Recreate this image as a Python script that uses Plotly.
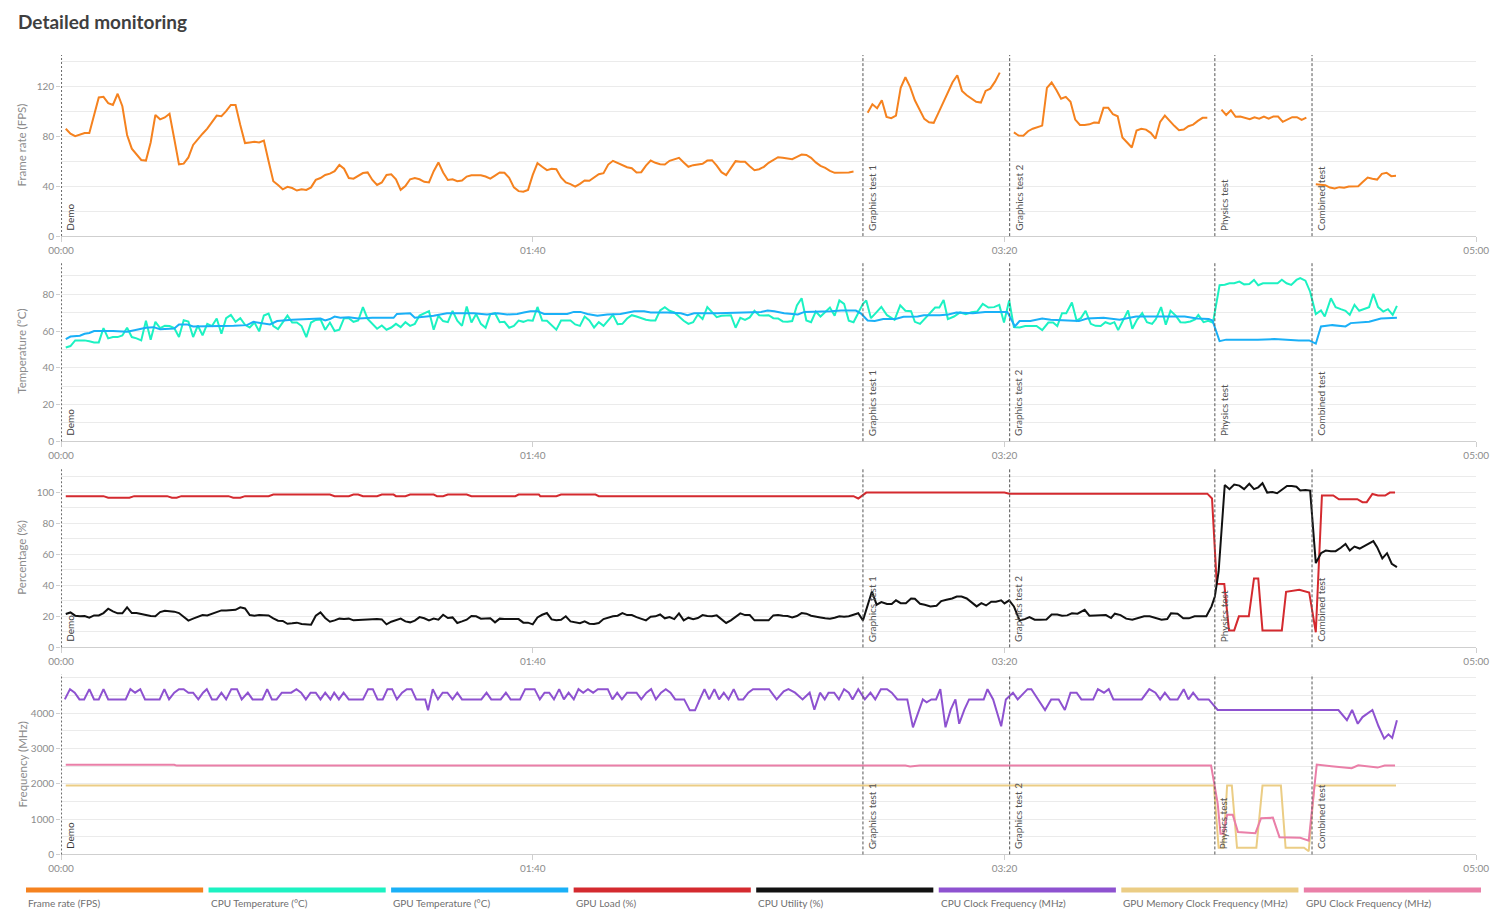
import plotly.graph_objects as go

W, H = 1511, 922


# map a pixel position measured on the reference picture to figure pixels
def px(x):
    return ((x - 13) / 0.982) / W


def py(y):
    return 1 - (y / 0.993) / H


X0, X1 = 61, 1475  # plot-area left/right on the reference

# ---------------- data ----------------
series_names = ['Frame rate (FPS)', 'CPU Temperature (°C)', 'GPU Temperature (°C)', 'GPU Load (%)',
                'CPU Utility (%)', 'CPU Clock Frequency (MHz)', 'GPU Memory Clock Frequency (MHz)',
                'GPU Clock Frequency (MHz)']
series_colors = ['#F5821F', '#1CF2C2', '#1AB0F7', '#D42A2F', '#111111', '#8E52D0', '#EBCD85', '#EA7FA8']

test_names = ['Demo', 'Graphics test 1', 'Graphics test 2', 'Physics test', 'Combined test']
test_starts = [0, 170.0, 201.1, 244.6, 265.2]

x_tick_vals = [0, 100, 200, 300]
x_tick_text = ['00:00', '01:40', '03:20', '05:00']

# Frame rate, one value per second for each test
fps_demo_t = list(range(1, 169))
fps_demo = [86, 82, 80, 81, 82.5, 82.5, 97, 111, 111.5, 106.5,
            105, 114, 104, 81, 70, 65.5, 61, 60.5, 75, 97,
            93.5, 95, 98, 78, 57.5, 58, 63, 73, 78, 82,
            86, 91.5, 96.5, 96, 100, 105, 105, 89, 74.5, 75,
            75.5, 75, 76.5, 60, 44, 41, 37.5, 39.5, 38.5, 36.5,
            37.5, 37, 39, 45, 46.5, 49, 50, 52, 57, 54,
            46.5, 46, 48.5, 50.5, 51, 45, 41, 43, 49, 49.5,
            45.5, 37, 40, 45.5, 46.5, 45.5, 43.5, 43, 52, 59,
            51, 45, 45.5, 44, 44.5, 47.7, 48.8, 49, 48.8, 47.7,
            46, 48.5, 51, 50.7, 46.7, 39, 36, 35.5, 37, 49,
            58.4, 55.5, 52.8, 53.9, 53.6, 47, 43, 41.6, 39.7, 41.9,
            44.5, 44.3, 47.2, 49.6, 50.4, 57.3, 60.3, 58.7, 56.5, 55.2,
            54.4, 51, 51.2, 56.5, 60.5, 58.7, 57.6, 57.3, 60.3, 61.6,
            62.7, 59, 55.5, 56.8, 57.6, 57.9, 60.5, 60.8, 56.5, 51.2,
            48.8, 54.4, 60, 59.5, 59.5, 56, 52.8, 53.6, 55.5, 58.7,
            61.3, 63.2, 62.7, 61.9, 61.6, 63.5, 65.3, 65, 62.7, 59,
            56.3, 54.7, 52.3, 50.7, 50.7, 50.7, 51, 51.7]
fps_gt1_t = list(range(171, 200))
fps_gt1 = [98.7, 105.6, 102.4, 108.8, 95.5, 94.4, 96.5, 118.7, 127.2, 119.5,
           108.8, 100.8, 93.9, 91.2, 90.7, 98.7, 106.7, 115.2, 123.2, 128.8,
           116.3, 112.8, 110.4, 107.5, 106.9, 116.3, 118.1, 123.7, 130.9]
fps_gt2_t = list(range(202, 244))
fps_gt2 = [83, 80.5, 80.3, 84, 86, 87.5, 88.5, 118.7, 123, 117,
           110, 111.5, 107.5, 93.3, 89, 89, 89.5, 91, 90.7, 102.7,
           102.7, 97.6, 96, 79, 75, 71, 84.5, 86, 85.3, 82.7,
           78, 91.5, 96.5, 92, 88.3, 84.8, 85.3, 88, 89.3, 92.3,
           94.7, 94.7]
fps_phys_t = list(range(246, 265))
fps_phys = [101.3, 97, 100.8, 95.5, 95.7, 94.7, 93.6, 95.2, 94.1, 95.7,
            94.1, 95.7, 95.7, 91.5, 93.3, 95.2, 95.2, 93, 94.9]
fps_comb_t = list(range(266, 284))
fps_comb = [41.6, 41.2, 40.8, 38.9, 38.1, 39.2, 38.7, 39.7, 39.8, 40,
            43.5, 46.9, 46, 45.3, 49.9, 50.7, 48, 48.3]

# CPU temperature
cpu_temp_t = list(range(1, 171)) + [
    170.7, 171.7, 172.7, 173.9, 175.1, 176.7, 177.9, 179, 180.2, 181, 182.1, 183.1, 184.3, 185.3,
    186.2, 187.1, 188, 189.3, 190.6, 191.8, 193, 194.2, 195.4, 196.6, 197.8, 198.9, 199.9, 201,
    202, 203.2, 204.4, 205.5, 206.8, 208, 209.3, 210.3, 211.2, 212.2, 213.1, 214.3, 215.3, 216.2,
    217.2, 218.3, 219.3, 220.4, 221.4, 222.4, 223.3, 224.1, 225.2, 226.2, 227.1, 228.1, 229.2,
    230.2, 231.3, 232.1, 233.2, 234.2, 235.2, 236.3, 237.3, 238.3, 239.4, 240.4, 241.1, 242.2,
    243.2, 244.2, 245.6, 246.7, 247.7, 248.7, 249.8, 250.8, 251.9, 252.9, 253.8, 254.8, 255.8,
    256.9, 257.9, 258.8, 259.8, 260.8, 261.9, 262.7, 263.8, 264.8, 266, 267.1, 267.9, 269.2,
    270.2, 271.3, 272.3, 273.2, 274.2, 275.2, 276.3, 277.3, 278.2, 279.2, 280.3, 281.3, 282.3,
    283.2]
cpu_temp = [51, 51.8, 54.9, 55, 54.9, 54.4, 53.8, 53.8, 61.6, 56,
            56.7, 56.7, 57.6, 61.8, 56.7, 56, 54.9, 65.6, 55.3, 65,
            61.6, 62.8, 62.7, 61.6, 56.7, 65.9, 65.2, 56.7, 63, 57.6,
            63.9, 62.7, 66.8, 58.5, 67, 68.8, 65, 67, 63.4, 61.9,
            64.6, 59.8, 68.4, 69.5, 62.7, 61, 64.8, 68.4, 64.6, 64.6,
            62.7, 56.7, 64.6, 66, 66.3, 60.7, 64.6, 60, 60.7, 67,
            67, 65, 65.7, 73, 66.6, 63.9, 61.2, 63, 60.7, 61.9,
            63.9, 62.1, 64.8, 62.8, 63.9, 68.4, 69.7, 70.8, 60.7, 68.3,
            65.4, 64.8, 71, 65.6, 62.8, 73.3, 64.6, 69.2, 63.9, 61.8,
            69.2, 69.7, 64.8, 65, 61.8, 62.8, 65.7, 65, 65.9, 65.6,
            73.1, 65.7, 65.6, 63.4, 60.7, 65.7, 65.7, 65.7, 63.6, 62.8,
            67.9, 65.7, 61.9, 64.8, 62.8, 65.6, 68.8, 63.7, 63.9, 66.8,
            68.6, 67.9, 67, 66.1, 65.7, 65.7, 71.2, 73, 71, 70.1,
            67.9, 65.6, 63.9, 64.8, 69, 66.5, 73, 70.1, 67.5, 68.3,
            68.3, 68.6, 61.8, 67.2, 66.1, 67.4, 71, 68.6, 68.4, 68.6,
            67, 66.8, 65.2, 65, 65.4, 73.9, 77.8, 65.7, 64.8, 70.6,
            67.9, 70.1, 72.8, 68.3, 76.7, 74.8, 65.6, 64.8, 70.1, 74.8,
            76.6, 67, 69.7, 73.1, 68.6, 66.1, 74, 71, 70.8, 65, 63.9, 66.6, 69.7, 72.8,
            72.8, 76.9, 66.5, 67.9, 70.1, 69.2, 70.2, 70.6, 74.8, 72.8, 73, 74.2, 64.6, 76.6,
            62.1, 61.9, 62.7, 62.8, 62.7, 60.5, 64.6, 64.6, 62.7, 69.7, 69.7, 75.5, 65.6, 67,
            71, 63.9, 62.8, 62.7, 64.8, 63.9, 64.8, 60.5, 65.7, 71.2, 61.2, 66.1, 69.7,
            64.8, 63.9, 66.5, 73, 63.4, 71, 68.4, 64.8, 64.6, 65.2, 66.3, 68.8, 64.8,
            65.6, 64.6, 84.9, 85.2, 86, 86, 86.9, 85.4, 85.6, 87.8, 84.9, 86, 86,
            86, 86, 87.9, 86, 85.1, 87.8, 88.8, 87.4, 81.4, 69.2, 71.2, 67.9, 77.8,
            73, 71.9, 71, 68.8, 74.2, 71, 72.1, 73, 80.2, 73, 70.6, 71.9, 68.8,
            73.7]

# GPU temperature
gpu_temp_t = [1, 2, 4, 5, 6, 7, 11, 14, 15.3, 16.8, 18, 19.6, 21, 24, 25, 26.7, 28, 36.6, 39.4, 40.8,
              43, 44.3, 45.8, 49, 55, 56, 57, 58, 59.2, 61, 63, 66, 70.5, 71.2, 74, 75, 79, 81.8,
              84.7, 87.5, 90.3, 92.5, 94.6, 96.7, 98.1, 99.5, 101, 102.4, 107.3, 108.7, 110.1, 111.6,
              113.7, 115.8, 118.6, 121.5, 123.6, 125, 128.6, 131.4, 132.8, 134.2, 139.2, 142.7,
              145.5, 148.4, 149.8, 151.2, 153.3, 156.2, 157.6, 161.1, 163.2, 165.4, 168.5, 169.6,
              171, 172.5, 174.3, 176.9, 178.6, 181.6, 182.9, 186.3, 188.1, 189.8, 193.3, 195.9,
              200.6, 202.2, 203.2, 205.5, 208, 209.8, 215.8, 217.5, 221, 224.4, 227.9, 238.2,
              240.8, 243.3, 244.1, 245.6, 247, 253.7, 257.2, 262.4, 264.6, 266, 267.1, 269.5,
              271.3, 272.3, 273.4, 275.5, 277.3, 279.8, 283.2]
gpu_temp = [55.6, 57, 57.4, 58.5, 58.9, 60, 60, 59.6, 60.3, 61, 61.8, 62.1, 61, 61.4, 63.6, 63.6,
            62.5, 62.8, 63.2, 65, 63.9, 63.6, 65.4, 66.1, 66.8, 65.7, 66.5, 67.9, 67.2, 67.5, 66.8,
            67.2, 67.2, 69.3, 69.7, 67.2, 68.3, 69.7, 69.7, 69.7, 69, 69.7, 69, 69.3, 70.1, 70.8,
            70.8, 69.3, 69.3, 70.4, 70.4, 69.3, 68.3, 69, 69.3, 70.8, 70.8, 70.1, 70.1, 69.7, 68.6,
            69.7, 69.7, 70.1, 70.4, 70.4, 71.1, 70.8, 69.7, 69, 70.4, 70.4, 70.8, 71.1, 71.1, 69.5,
            65.7, 65.4, 66.5, 66.5, 67.7, 67.9, 68.6, 68.6, 69, 70.1, 69.7, 70.4,
            70.4, 62.5, 65.4, 65.4, 66.8, 66.1, 65.4, 66.8, 67.2, 66.1, 67.9, 67.9,
            66.8, 66.5, 65.7, 54.5, 55.3, 55.3, 55.6, 54.9, 54.9, 53.1, 62.5, 63.2,
            62.8, 62.5, 64.3, 64.6, 65, 66.8, 67.2]

# GPU load
gpu_load_t = [1, 9, 10, 14.5, 15.5, 22.5, 23.5, 24.5, 25.5, 35.5, 36.5, 38, 39, 44, 45, 57, 58, 61, 62,
              63, 64, 67, 68, 70.5, 71, 73, 74, 79, 79.7, 81, 82, 86, 87, 96.3, 97, 101.3, 101.6, 105,
              106, 113.3, 114, 168, 169, 170.7, 200, 201, 243, 244, 245, 246.6, 247.6, 248.7, 249.7,
              251.8, 252.9, 253.8, 254.7, 258.8, 259.7, 260.8, 262.5, 264.6, 266, 267.3, 269.7,
              270.9, 274.8, 275.9, 276.8, 278, 279.2, 280.7, 281.7, 282.8]
gpu_load = [97.5, 97.5, 96.5, 96.5, 97.5, 97.5, 96.5, 96.5, 97.5, 97.5, 96.5, 96.5, 97.5, 97.5, 98.5,
            98.5, 97.5, 97.5, 98.5, 98.5, 97.5, 97.5, 98.5, 98.5, 97.5, 97.5, 98.5, 98.5, 97.5, 97.5,
            98.5, 98.5, 97.5, 97.5, 98.5, 98.5, 97.5, 97.5, 98.5, 98.5, 97.5, 97.5, 96, 99.8, 99.8,
            99.1, 99.1, 96, 41, 40.8, 10.9, 10.9, 20, 20, 44.4, 44.4, 10.9, 10.9, 35.8, 36.5, 37.1,
            35.4, 9.7, 97.9, 97.9, 95.5, 95.5, 93.6, 93.6, 98.9, 97.9, 97.9, 99.8, 99.8]

# CPU utility
cpu_util_t = list(range(1, 171)) + [
    171.9, 172.9, 173.9, 175.1, 176.1, 177, 178, 179.1, 180.2, 181, 182.1, 183.1, 184.3, 185.6,
    186.6, 187.7, 188.9, 189.9, 190.9, 192, 193, 194.1, 195.1, 196.1, 197.2, 198.2, 199.3, 200,
    201, 202, 203.2, 204.3, 205.3, 206.4, 207.5, 208.9, 210, 211.2, 212.2, 213.3, 214.3, 215.5,
    217, 218, 219.3, 220.5, 221.5, 222.6, 223.4, 224.6, 225.8, 227.1, 228.4, 229.6, 230.8, 232,
    233.3, 234.5, 235.3, 236.7, 237.9, 239.1, 240.3, 241.4, 242.8, 243.9, 244.6, 245.4, 246.7,
    247.7, 248.7, 249.8, 250.8, 251.9, 252.9, 253.8, 254.7, 255.7, 256.8, 257.8, 258.8, 259.9,
    260.9, 261.9, 262.7, 263.8, 264.8, 266, 267.1, 268.1, 269.2, 270.2, 271.3, 272.3, 273.2,
    274.2, 275.3, 276.3, 277.4, 278.2, 279, 280.1, 281.1, 282.1, 283.2]
cpu_util = [21.5, 22.5, 20.4, 20, 20.2, 19.1, 20.6, 20.6, 22.1, 24.9,
            23.2, 21.9, 21.9, 25.8, 22.1, 22.1, 21.5, 20.8, 20.2, 20,
            22.7, 23.6, 23.4, 23, 22.1, 19.5, 17.2, 18.5, 19.7, 20.8,
            20.6, 21.7, 22.3, 23.8, 23.8, 24.2, 24.2, 25.8, 25.1, 20.8,
            20.4, 20.8, 20.6, 20.6, 18.7, 17.2, 17, 15.2, 15.5, 15.9,
            15, 15, 14.6, 20.4, 22.5, 18.9, 16.5, 17.4, 18.5, 18.2,
            18.5, 17.4, 17.6, 17.8, 18, 18, 18.2, 18, 14.8, 16.5,
            17.6, 18.5, 16.7, 16.1, 17.2, 19.5, 18.7, 17.4, 18.5, 17.8,
            21, 18.9, 19.3, 15.7, 16.7, 17.8, 20.2, 20, 18.5, 18.5,
            18.7, 16.1, 18.5, 18.2, 18.2, 18.2, 18.2, 15.9, 15.9, 14.8,
            19.3, 21, 22.1, 18, 17.4, 17.8, 20, 16.7, 16.3, 15.5,
            16.7, 15.2, 15, 15.7, 18.2, 19.1, 20, 20.4, 22.1, 20.8,
            20.8, 19.5, 18.2, 17.4, 19.7, 20, 21.2, 18.7, 19.5, 18.2,
            21.9, 17.4, 19.1, 18.2, 18.9, 20.8, 20.2, 20, 20.6, 18.2,
            15.7, 17.4, 19.7, 21.9, 20.8, 20.8, 17.4, 17.4, 17.4, 17.4,
            20.6, 20.8, 20.4, 20.2, 19.3, 20.2, 22.1, 21.7, 20.4, 20,
            19.3, 18.7, 18.5, 19.1, 20, 19.7, 20, 21, 22, 17.4,
            36, 27.5, 29.2, 27.9, 27.9, 30.3, 28.5, 28.5, 31.5, 31.3, 28.1, 27.5, 26.4, 26.8,
            29.8, 30.7, 31.5, 32.8, 32.8, 31.5, 29, 26.4, 28.5, 27, 29.4, 29.4, 30.3, 28.3,
            30.3, 26.4, 17.4, 18.2, 19.5, 17.8, 17.8, 18, 21.2, 21.2, 20.4, 20.6, 21.9, 21.7,
            24.2, 20.4, 20.6, 20.6, 20.8, 18.9, 21.7, 20.8, 18.5, 17.8, 18.7, 20, 20, 19.1,
            17.8, 18.2, 21.9, 21.7, 18.7, 18.7, 20, 20, 20, 26.4, 32.8, 48.9, 104.7,
            102, 105, 104.3, 102, 105.5, 102, 103.2, 105.8, 99.8, 100.2, 99.4, 101.5, 104.1,
            104.1, 103.6, 101.1, 101.5, 101.1, 54.3, 60.7, 62.4, 62, 62, 64.2, 66.7, 62.4,
            65, 63.7, 65.5, 67.6, 68.5, 64.6, 57.3, 60.7, 53.9, 51.7]

# CPU clock frequency
cpu_clock_t = [0.8, 1.9, 2.9, 3.9, 4.9, 6, 7, 8, 9, 10, 13.7, 14.7, 15.7, 16.8, 17.8, 20.9, 21.9, 22.9,
               24, 25, 26, 27, 28, 29.1, 30.1, 30.9, 32, 33, 34, 35, 36.1, 37.3, 38.3, 39.6, 40.6,
               41.6, 42.7, 43.7, 44.7, 45.7, 46.8, 47.8, 48.8, 49.9, 50.9, 51.9, 52.9, 54, 55, 56,
               57.1, 57.9, 58.9, 59.9, 61, 62, 63, 64, 65.1, 66.1, 67.1, 68.2, 69.2, 70.2, 71.2,
               72.3, 73.3, 74.3, 75.3, 76.4, 77.2, 77.8, 78.8, 79.9, 80.9, 81.9, 83, 84, 85, 86,
               87.1, 88.1, 89.1, 90.2, 91.2, 92.2, 93.2, 94.3, 95.3, 96.3, 97.3, 98.4, 99.4, 100.4,
               101.5, 102.5, 103.5, 104.5, 105.6, 106.6, 107.6, 108.7, 109.7, 110.7, 111.7, 112.8,
               113.8, 114.8, 115.9, 116.9, 117.9, 118.9, 120, 121, 122, 123, 124.1, 125.1, 126.1,
               127.2, 128.2, 129.2, 130.2, 131.3, 132.1, 133.3, 134.4, 135.4, 136.4, 137.4, 138.5,
               139.5, 140.5, 141.5, 142.6, 143.6, 144.6, 145.7, 146.7, 148.3, 150.1, 151.7, 153.2,
               154.2, 155.6, 157.2, 158.7, 159.7, 160.9, 161.9, 162.7, 163.9, 164.9, 166, 167,
               167.8, 169, 170.4, 171.6, 172.6, 173.8, 175.1, 176.1, 177.3, 179.4, 180.6, 182.7,
               183.5, 184.5, 185.5, 186.4, 187.5, 188.6, 189.6, 190.4, 191.5, 192.5, 195.6, 196.4,
               197.6, 199.3, 200.3, 201.8, 202.8, 204.9, 205.7, 207.2, 208.6, 209.9, 211.5, 212.8,
               214, 215.3, 216.3, 218.8, 219.8, 221.1, 222.1, 223.1, 229.1, 230.7, 232, 233, 234,
               235.1, 236.7, 238, 239, 240, 241.1, 243.3, 245.2, 270.8, 272.6, 273.7, 274.9, 275.9,
               278, 279.3, 280.5, 281.4, 282.2, 283.2]
cpu_clock = [4390, 4680, 4580, 4390, 4390, 4680, 4390, 4390, 4680, 4390, 4390, 4680, 4580, 4680, 4390,
             4390, 4680, 4390, 4580, 4680, 4680, 4580, 4580, 4390, 4580, 4680, 4390, 4390, 4580, 4390,
             4680, 4680, 4390, 4580, 4390, 4390, 4390, 4680, 4390, 4390, 4580, 4580, 4580, 4680, 4580,
             4390, 4580, 4580, 4390, 4580, 4390, 4580, 4390, 4580, 4390, 4390, 4390, 4390, 4680, 4680,
             4390, 4390, 4680, 4680, 4390, 4580, 4680, 4680, 4390, 4390, 4390, 4080, 4680, 4390, 4580,
             4580, 4390, 4580, 4390, 4390, 4390, 4390, 4390, 4580, 4390, 4390, 4390, 4580, 4390, 4390,
             4390, 4680, 4680, 4680, 4390, 4580, 4580, 4390, 4680, 4390, 4580, 4390, 4680, 4580, 4680,
             4580, 4680, 4680, 4680, 4390, 4580, 4390, 4580, 4580, 4580, 4390, 4580, 4680, 4390, 4580,
             4680, 4580, 4390, 4390, 4390, 4080, 4080, 4390, 4680, 4390, 4680, 4390, 4580, 4390, 4680,
             4390, 4390, 4580, 4680, 4680, 4680, 4390, 4620, 4680, 4580, 4390, 4580, 4100, 4580, 4390,
             4580, 4580, 4390, 4680, 4580, 4390, 4680, 4390, 4580, 4390, 4680, 4680, 4580, 4390, 4390,
             3600, 4390, 4310, 4390, 4390, 4680, 3600, 4100, 4390, 3700, 4100, 4390, 4390, 4680, 4390,
             3630, 4390, 4580, 4390, 4680, 4680, 4390, 4090, 4390, 4390, 4090, 4580, 4580, 4390, 4390,
             4680, 4580, 4680, 4390, 4390, 4680, 4580, 4390, 4580, 4390, 4390, 4680, 4390, 4580, 4390,
             4390, 4090, 4090, 3800, 4090, 3700, 3890, 4090, 3630, 3280, 3400, 3300, 3800]

# GPU memory clock frequency
gpu_mem_t = [1, 244.4, 245.4, 246.4, 247.2, 248.2, 249.3, 253.4, 254.7, 258.6, 259.6, 263.5, 264.5,
             265.7, 283]
gpu_mem = [1950, 1950, 190, 190, 1950, 1950, 190, 190, 1950, 1950, 190, 190, 90, 1950, 1950]

# GPU clock frequency
gpu_clock_t = [1, 24, 24.5, 179, 180, 182, 243.8, 245.2, 245.8, 246.4, 247.2, 248.4, 249.5, 253.2,
               254.4, 256.9, 258.3, 262.7, 264.5, 266.2, 269.3, 273.6, 275, 277.5, 279.1, 280.6, 282.8]
gpu_clock = [2540, 2540, 2515, 2515, 2490, 2515, 2515, 1445, 584, 584, 1120, 1120, 632, 603, 1024,
             1043, 488, 469, 392, 2545, 2497, 2440, 2526, 2488, 2459, 2517, 2517]

# ---------------- figure ----------------
fig = go.Figure()


def join_segments(segs):
    xs, ys = [], []
    for t, v in segs:
        if xs:
            xs.append(None)
            ys.append(None)
        xs += list(t)
        ys += list(v)
    return xs, ys


fx, fy = join_segments([(fps_demo_t, fps_demo), (fps_gt1_t, fps_gt1), (fps_gt2_t, fps_gt2),
                        (fps_phys_t, fps_phys), (fps_comb_t, fps_comb)])

traces = [
    (fx, fy, 0, 1),
    (cpu_temp_t, cpu_temp, 1, 2),
    (gpu_temp_t, gpu_temp, 2, 2),
    (gpu_load_t, gpu_load, 3, 3),
    (cpu_util_t, cpu_util, 4, 3),
    (cpu_clock_t, cpu_clock, 5, 4),
    (gpu_mem_t, gpu_mem, 6, 4),
    (gpu_clock_t, gpu_clock, 7, 4),
]
for xs, ys, ci, panel in traces:
    suffix = '' if panel == 1 else str(panel)
    fig.add_trace(go.Scatter(x=xs, y=ys, mode='lines', name=series_names[ci],
                             line=dict(color=series_colors[ci], width=2),
                             connectgaps=False, showlegend=False,
                             xaxis='x' + suffix, yaxis='y' + suffix))

# panel geometry on the reference picture (top, bottom)
panels = [(55, 236), (262, 441), (468, 647), (674, 854)]
y_ranges = [[0, 145], [0, 97.5], [0, 115.5], [0, 5100]]
y_tickvals = [[0, 40, 80, 120], [0, 20, 40, 60, 80], [0, 20, 40, 60, 80, 100],
              [0, 1000, 2000, 3000, 4000]]
y_minor = [20, 10, 10, 500]
y_titles = ['Frame rate (FPS)', 'Temperature (°C)', 'Percentage (%)', 'Frequency (MHz)']

FONT = 'Lato, Open Sans, sans-serif'
tick_font = dict(family=FONT, size=10, color='#8c8c8c')
grid_col = '#ebebeb'

layout = dict(width=W, height=H, autosize=False, margin=dict(l=0, r=0, t=0, b=0),
              paper_bgcolor='white', plot_bgcolor='white', showlegend=False,
              font=dict(family=FONT))

shapes = []
annotations = []
for i, (top, bot) in enumerate(panels):
    sfx = '' if i == 0 else str(i + 1)
    layout['xaxis' + sfx] = dict(domain=[px(X0), px(X1)], range=[0, 300], anchor='y' + sfx,
                                 tickmode='array', tickvals=x_tick_vals, ticktext=x_tick_text,
                                 showgrid=False, zeroline=False, showline=True,
                                 linecolor='#cfcfcf', linewidth=1, ticks='outside', ticklen=5,
                                 tickcolor='#cfcfcf', tickfont=tick_font, fixedrange=True)
    layout['yaxis' + sfx] = dict(domain=[py(bot), py(top)], range=y_ranges[i],
                                 anchor='x' + sfx, tickmode='array', tickvals=y_tickvals[i],
                                 tickformat='d',
                                 showgrid=True, gridcolor=grid_col, gridwidth=1, zeroline=False,
                                 showline=False, ticks='outside', ticklen=4, tickcolor='#cfcfcf',
                                 tickfont=tick_font, fixedrange=True,
                                 minor=dict(tickmode='linear', tick0=0, dtick=y_minor[i],
                                            showgrid=True, gridcolor=grid_col, gridwidth=1,
                                            ticks=''))
    # axis title
    annotations.append(dict(x=px(22), y=py((top + bot) / 2), xref='paper', yref='paper',
                            text=y_titles[i], textangle=-90, showarrow=False,
                            xanchor='center', yanchor='middle',
                            font=dict(family=FONT, size=11.5, color='#8c8c8c')))
    # test markers
    for name, ts in zip(test_names, test_starts):
        first = ts == 0
        shapes.append(dict(type='line', xref='x' + sfx, yref='y' + sfx + ' domain',
                           x0=ts, x1=ts, y0=0, y1=1,
                           line=dict(color='#6a6a6a' if first else '#555555',
                                     width=2 if first else 1,
                                     dash='2px,2px' if first else '3px,2px')))
        annotations.append(dict(x=ts, y=0, xref='x' + sfx, yref='y' + sfx + ' domain',
                                text=name, textangle=-90, showarrow=False,
                                xanchor='left', yanchor='bottom', xshift=1, yshift=3,
                                font=dict(family=FONT, size=10,
                                          color='#3a3a3a' if first else '#555555')))

# title
annotations.append(dict(x=px(16), y=py(21), xref='paper', yref='paper',
                        text='<b>Detailed monitoring</b>', showarrow=False,
                        xanchor='left', yanchor='middle',
                        font=dict(family=FONT, size=19, color='#3f3f3f')))

# legend (coloured bars with labels underneath)
for i, (nm, col) in enumerate(zip(series_names, series_colors)):
    lx0 = 26 + i * 182.4
    lx1 = lx0 + 177
    shapes.append(dict(type='rect', xref='paper', yref='paper',
                       x0=px(lx0), x1=px(lx1), y0=py(892), y1=py(887),
                       fillcolor=col, line=dict(width=0)))
    annotations.append(dict(x=px(lx0), y=py(903), xref='paper', yref='paper', text=nm,
                            showarrow=False, xanchor='left', yanchor='middle',
                            font=dict(family=FONT, size=10, color='#6f6f6f')))

layout['shapes'] = shapes
layout['annotations'] = annotations
fig.update_layout(**layout)

fig.write_html('out.html')
